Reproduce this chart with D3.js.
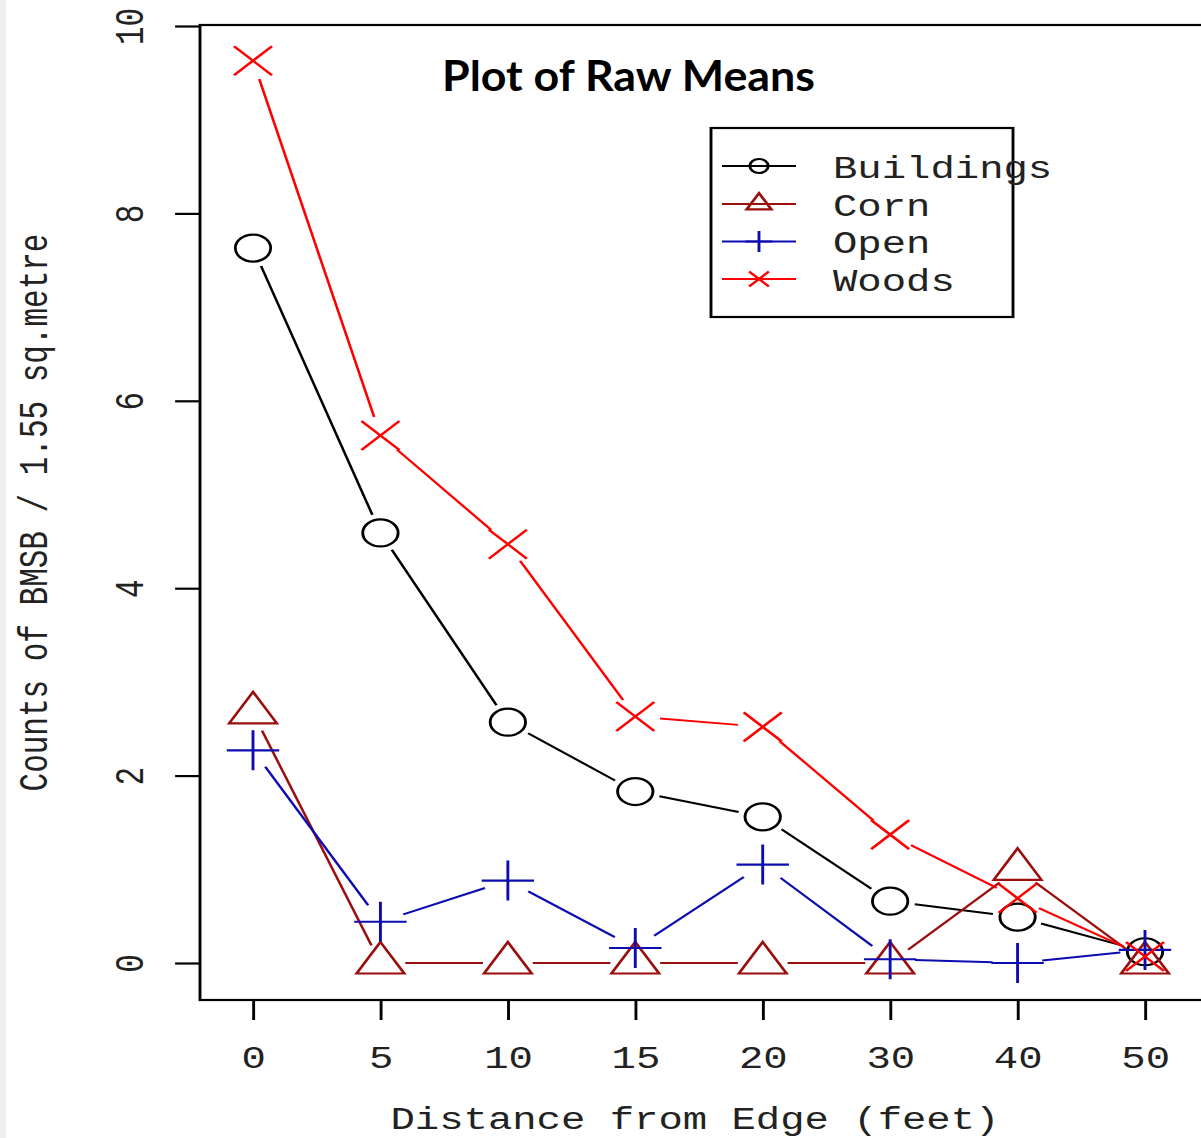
<!DOCTYPE html>
<html>
<head>
<meta charset="utf-8">
<script src="https://cdn.jsdelivr.net/npm/d3@7"></script>
<style>
  html, body { margin: 0; padding: 0; background: #fff; }
  svg { display: block; }
</style>
</head>
<body>
<script>
// ---- data ----
const distances = ["0", "5", "10", "15", "20", "30", "40", "50"];
const buildings = [7.63, 4.59, 2.57, 1.83, 1.56, 0.66, 0.49, 0.12];
const corn      = [2.67, 0, 0, 0, 0, 0, 1.0, 0];
const openLand  = [2.27, 0.44, 0.88, 0.16, 1.05, 0.04, 0.0, 0.14];
const woods     = [9.63, 5.63, 4.47, 2.63, 2.52, 1.37, 0.69, 0.07];
const yTicks = [0, 2, 4, 6, 8, 10];
const seriesNames = ["Buildings", "Corn", "Open", "Woods"];
const seriesColors = ["#000000", "#9b0e0e", "#0c0cb0", "#ff0000"];
const seriesShapes = ["circle", "triangle", "plus", "cross"];
const titleText = "Plot of Raw Means";
const xTitle = "Distance from Edge (feet)";
const yTitle = "Counts of BMSB / 1.55 sq.metre";

const series = [buildings, corn, openLand, woods].map((vals, i) => ({
  name: seriesNames[i], color: seriesColors[i], shape: seriesShapes[i], values: vals
}));

// ---- layout ----
const W = 1201, H = 1138;
const sx = 1.31; // horizontal stretch of the original raster
const mono = "'Liberation Mono', 'DejaVu Sans Mono', monospace";

const svg = d3.select("body").append("svg").attr("width", W).attr("height", H);
svg.append("rect").attr("x", 0).attr("y", 0).attr("width", W).attr("height", H).attr("fill", "#fff");
svg.append("rect").attr("x", 0).attr("y", 0).attr("width", 6).attr("height", H).attr("fill", "#efefef");

const g = svg.append("g").attr("transform", `scale(${sx},1)`);

const boxL = 200 / sx, boxR = 1212 / sx, boxT = 25, boxB = 1000;

const x = d3.scaleLinear().domain([0, distances.length - 1]).range([253 / sx, 1145 / sx]);
const y = d3.scaleLinear().domain([0, 10]).range([963, 26]);

// box
g.append("rect").attr("x", boxL).attr("y", boxT).attr("width", boxR - boxL).attr("height", boxB - boxT)
  .attr("fill", "none").attr("stroke", "#000").attr("stroke-width", 2.2);

// y axis
const yAxis = g.append("g").attr("transform", `translate(${boxL},0)`)
  .call(d3.axisLeft(y).tickValues(yTicks).tickSize(19).tickFormat(d3.format("d")));
yAxis.select(".domain").remove();
yAxis.selectAll(".tick line").attr("stroke", "#000").attr("stroke-width", 2.2);
yAxis.selectAll(".tick text")
  .attr("x", null).attr("dy", null)
  .attr("transform", `translate(${109 - boxL},0) rotate(-90)`)
  .attr("text-anchor", "middle")
  .attr("font-family", mono).attr("font-size", 31).attr("fill", "#222");

// x axis
const xAxis = g.append("g").attr("transform", `translate(0,${boxB})`)
  .call(d3.axisBottom(x).tickValues(d3.range(distances.length)).tickSize(20).tickFormat(i => distances[i]));
xAxis.select(".domain").remove();
xAxis.selectAll(".tick line").attr("stroke", "#000").attr("stroke-width", 2.2);
xAxis.selectAll(".tick text")
  .attr("y", 68).attr("dy", null)
  .attr("font-family", mono).attr("font-size", 31).attr("fill", "#222");

// axis titles
g.append("text").attr("x", 530.5).attr("y", 1129).attr("text-anchor", "middle")
  .attr("font-family", mono).attr("font-size", 31).attr("fill", "#222").text(xTitle);
g.append("text").attr("transform", `translate(${47 / sx},512.5) rotate(-90)`).attr("text-anchor", "middle")
  .attr("font-family", mono).attr("font-size", 31).attr("fill", "#222").text(yTitle);

// marker path generator (unstretched coords)
function markerPath(shape, s) {
  const r = 13.5 * s;
  if (shape === "circle") {
    return `M${-r},0a${r},${r} 0 1,0 ${2 * r},0a${r},${r} 0 1,0 ${-2 * r},0Z`;
  } else if (shape === "triangle") {
    const t = 1.555 * r;
    return `M0,${-t}L${0.866 * t},${0.5 * t}L${-0.866 * t},${0.5 * t}Z`;
  } else if (shape === "plus") {
    const p = 20 * s;
    return `M${-p},0L${p},0M0,${-p}L0,${p}`;
  } else {
    const c = 14.5 * s;
    return `M${-c},${-c}L${c},${c}M${-c},${c}L${c},${-c}`;
  }
}

// series lines with gaps (type = "b")
const gap = 19;
const plot = g.append("g");
series.forEach(s => {
  const pts = s.values.map((v, i) => [x(i), y(v)]);
  const segs = [];
  for (let i = 0; i < pts.length - 1; i++) {
    const [x1, y1] = pts[i], [x2, y2] = pts[i + 1];
    const d = Math.hypot(x2 - x1, y2 - y1);
    if (d > 2 * gap) {
      const ux = (x2 - x1) / d, uy = (y2 - y1) / d;
      segs.push([x1 + ux * gap, y1 + uy * gap, x2 - ux * gap, y2 - uy * gap]);
    }
  }
  plot.append("g").selectAll("line").data(segs).join("line")
    .attr("x1", d => d[0]).attr("y1", d => d[1]).attr("x2", d => d[2]).attr("y2", d => d[3])
    .attr("stroke", s.color).attr("stroke-width", 2);
  plot.append("g").selectAll("path").data(s.values).join("path")
    .attr("transform", (v, i) => `translate(${x(i)},${y(v)})`)
    .attr("d", markerPath(s.shape, 1))
    .attr("fill", "none").attr("stroke", s.color).attr("stroke-width", 2.2);
});

// legend
const lg = g.append("g");
lg.append("rect").attr("x", 711 / sx).attr("y", 128).attr("width", (1013 - 711) / sx).attr("height", 189)
  .attr("fill", "none").attr("stroke", "#000").attr("stroke-width", 2.2);
const rowY = [166, 204, 241.5, 279];
series.forEach((s, i) => {
  lg.append("line").attr("x1", 722 / sx).attr("x2", 796 / sx).attr("y1", rowY[i]).attr("y2", rowY[i])
    .attr("stroke", s.color).attr("stroke-width", 2);
  lg.append("path").attr("transform", `translate(${759 / sx},${rowY[i]})`)
    .attr("d", markerPath(s.shape, 0.52))
    .attr("fill", "none").attr("stroke", s.color).attr("stroke-width", 2.2);
  lg.append("text").attr("x", 833 / sx).attr("y", rowY[i] + 12)
    .attr("font-family", mono).attr("font-size", 31).attr("fill", "#222").text(s.name);
});

// title (not stretched)
svg.append("text").attr("x", 628.5).attr("y", 91).attr("text-anchor", "middle")
  .attr("font-family", "Lato, 'Open Sans', sans-serif").attr("font-weight", "bold")
  .attr("font-size", 42).attr("textLength", 373).attr("lengthAdjust", "spacingAndGlyphs")
  .attr("fill", "#000").text(titleText);
</script>
</body>
</html>
